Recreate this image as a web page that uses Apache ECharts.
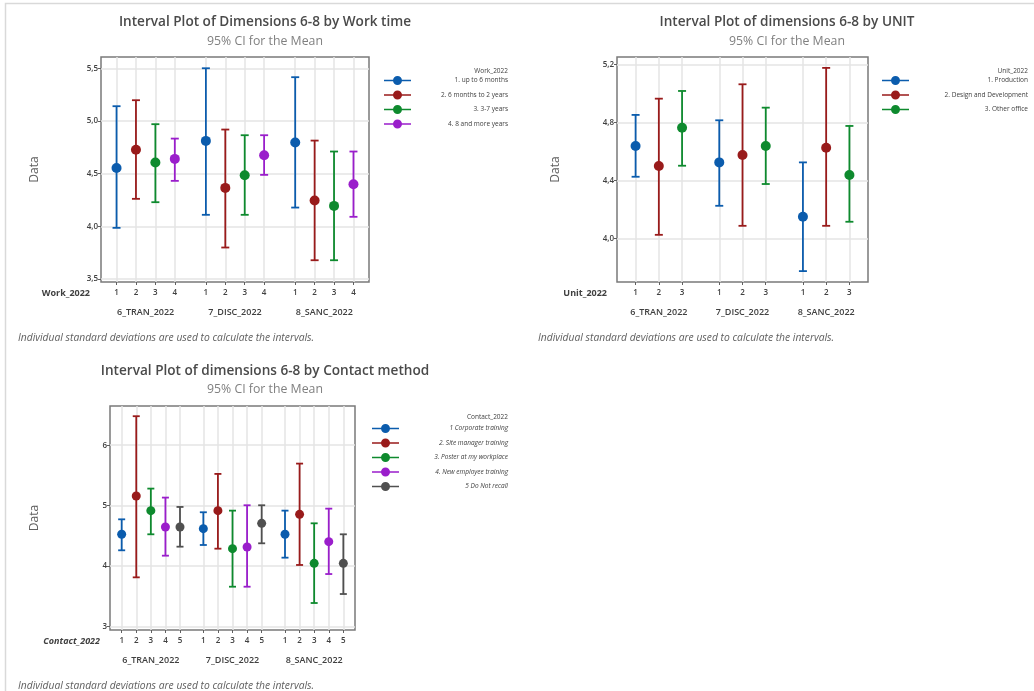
<!DOCTYPE html>
<html><head><meta charset="utf-8">
<script src="https://cdn.jsdelivr.net/npm/echarts@6/dist/echarts.min.js"></script>
<style>html,body{margin:0;padding:0;background:#fff}#c{width:1034px;height:691px}</style>
</head><body><div id="c"></div>
<script>
// ---------- DATA ----------
const groups = ['6_TRAN_2022', '7_DISC_2022', '8_SANC_2022'];
const colors = ['#0B5CAD', '#991B1B', '#0E8A2E', '#9A1ECB', '#505050'];

// Chart 1: Work time  ([level][group])
const workLevels = ['1', '2', '3', '4'];
const workNames = ['1. up to 6 months', '2. 6 months to 2 years', '3. 3-7 years', '4. 8 and more years'];
const workMean  = [[4.555, 4.812, 4.796], [4.727, 4.365, 4.245], [4.606, 4.486, 4.194], [4.641, 4.676, 4.400]];
const workLower = [[3.985, 4.109, 4.178], [4.261, 3.798, 3.677], [4.229, 4.109, 3.677], [4.432, 4.489, 4.090]];
const workUpper = [[5.142, 5.503, 5.418], [5.199, 4.920, 4.815], [4.971, 4.866, 4.711], [4.834, 4.866, 4.711]];
const workTicks = [3.5, 4.0, 4.5, 5.0, 5.5];

// Chart 2: UNIT
const unitLevels = ['1', '2', '3'];
const unitNames = ['1. Production', '2. Design and Development', '3. Other office'];
const unitMean  = [[4.637, 4.524, 4.149], [4.499, 4.575, 4.625], [4.763, 4.637, 4.437]];
const unitLower = [[4.425, 4.225, 3.775], [4.025, 4.087, 4.087], [4.501, 4.375, 4.115]];
const unitUpper = [[4.851, 4.814, 4.524], [4.963, 5.062, 5.175], [5.016, 4.901, 4.775]];
const unitTicks = [4.0, 4.4, 4.8, 5.2];

// Chart 3: Contact method
const contactLevels = ['1', '2', '3', '4', '5'];
const contactNames = ['1 Corporate training', '2. Site manager training', '3. Poster at my workplace', '4. New employee training', '5 Do Not recall'];
const contactMean  = [[4.525, 4.619, 4.525], [5.160, 4.917, 4.856], [4.917, 4.287, 4.044], [4.646, 4.315, 4.403], [4.646, 4.707, 4.044]];
const contactLower = [[4.260, 4.348, 4.138], [3.812, 4.287, 4.017], [4.525, 3.657, 3.387], [4.171, 3.657, 3.867], [4.320, 4.376, 3.536]];
const contactUpper = [[4.773, 4.890, 4.917], [6.481, 5.525, 5.696], [5.282, 4.917, 4.707], [5.133, 5.006, 4.950], [4.978, 5.006, 4.525]];
const contactTicks = [3, 4, 5, 6];

// ---------- LAYOUT ----------
const FONT = '"Open Sans", "Noto Sans", sans-serif';
const panels = [
  { levels: workLevels, names: workNames, mean: workMean, lower: workLower, upper: workUpper, ticks: workTicks, dec: 1,
    grid: { left: 101, top: 57, width: 268, height: 225 }, yMin: 3.47, yMax: 5.61,
    title: 'Interval Plot of Dimensions 6-8 by Work time', cx: 265, ty: 22, sy: 41,
    dataX: 35, xName: 'Work_2022', xNameX: 90, xNameItalic: false, foot: [18, 338],
    legTitle: 'Work_2022', legX: 384, legTop: 76, legRight: 508, legTitleY: 71, symbolSize: 10, cap: 4 },
  { levels: unitLevels, names: unitNames, mean: unitMean, lower: unitLower, upper: unitUpper, ticks: unitTicks, dec: 1,
    grid: { left: 617, top: 57, width: 251, height: 225 }, yMin: 3.70, yMax: 5.25,
    title: 'Interval Plot of dimensions 6-8 by UNIT', cx: 787, ty: 22, sy: 41,
    dataX: 556, xName: 'Unit_2022', xNameX: 607, xNameItalic: false, foot: [538, 338],
    legTitle: 'Unit_2022', legX: 882, legTop: 76, legRight: 1028, legTitleY: 71, symbolSize: 10, cap: 4 },
  { levels: contactLevels, names: contactNames, mean: contactMean, lower: contactLower, upper: contactUpper, ticks: contactTicks, dec: 0,
    grid: { left: 110, top: 406, width: 245, height: 224 }, yMin: 2.94, yMax: 6.65,
    title: 'Interval Plot of dimensions 6-8 by Contact method', cx: 265, ty: 371, sy: 389,
    dataX: 35, xName: 'Contact_2022', xNameX: 100, xNameItalic: true, foot: [18, 686],
    legTitle: 'Contact_2022', legX: 372, legTop: 424, legRight: 508, legTitleY: 417, symbolSize: 9, cap: 3.5 }
];

const PAD = 8, STEP = 10, GAP = 6;
const option = { animation: false, backgroundColor: '#fff', grid: [], xAxis: [], yAxis: [], series: [], legend: [], graphic: [] };

option.graphic.push({ type: 'rect', shape: { x: 5.5, y: 3.5, width: 1100, height: 800 }, style: { fill: null, stroke: '#d9d9d9', lineWidth: 1.5 }, silent: true });

function renderBar(cap) {
  return function (params, api) {
    const x = api.value(0);
    const lo = api.coord([x, api.value(1)]);
    const hi = api.coord([x, api.value(2)]);
    const style = { stroke: api.visual('color'), lineWidth: 1.8, fill: null };
    return { type: 'group', children: [
      { type: 'line', shape: { x1: lo[0], y1: lo[1], x2: hi[0], y2: hi[1] }, style: style },
      { type: 'line', shape: { x1: lo[0] - cap, y1: lo[1], x2: lo[0] + cap, y2: lo[1] }, style: style },
      { type: 'line', shape: { x1: hi[0] - cap, y1: hi[1], x2: hi[0] + cap, y2: hi[1] }, style: style }
    ] };
  };
}

const ICON = 'path://M0,4.2L27,4.2L27,5.8L0,5.8Z M9,5A4.5,4.5 0 1,1 18,5A4.5,4.5 0 1,1 9,5Z';

panels.forEach(function (p, k) {
  const n = p.levels.length;
  const stride = n * STEP + GAP;
  const pos = (g, i) => PAD + g * stride + i * STEP;
  const last = pos(groups.length - 1, n - 1);
  const N = last + PAD + 1;
  const slots = [];
  for (let s = 0; s < N; s++) slots.push(String(s));
  const levelLab = {}, groupLab = {};
  groups.forEach(function (g, gi) {
    p.levels.forEach(function (l, i) { levelLab[pos(gi, i)] = l; });
    groupLab[PAD + gi * stride + (n - 1) * STEP / 2] = g;
  });
  const isLevel = (idx) => levelLab[idx] !== undefined;
  const isGroup = (idx) => groupLab[idx] !== undefined;

  option.grid.push(Object.assign({ show: true, borderColor: '#7a7a7a', borderWidth: 1.5, backgroundColor: '#fff', containLabel: false }, p.grid));
  option.xAxis.push({
    gridIndex: k, type: 'category', data: slots, boundaryGap: false,
    axisLine: { show: false },
    axisTick: { show: true, length: 3, interval: isLevel, lineStyle: { color: '#606060', width: 1 } },
    axisLabel: { interval: isLevel, formatter: (v, idx) => levelLab[idx] || '', fontSize: 8, color: '#404040', margin: 7, fontFamily: FONT, fontWeight: 600 },
    splitLine: { show: true, interval: isLevel, lineStyle: { color: '#e4e4e4', width: 1.5 } }
  });
  option.xAxis.push({
    gridIndex: k, type: 'category', data: slots, boundaryGap: false, position: 'bottom', offset: 22,
    axisLine: { show: false }, axisTick: { show: false }, splitLine: { show: false },
    axisLabel: { interval: isGroup, formatter: (v, idx) => groupLab[idx] || '', fontSize: 9, color: '#404040', margin: 3.5, fontFamily: FONT, fontWeight: 600 }
  });
  option.yAxis.push({
    gridIndex: k, type: 'value', min: p.yMin, max: p.yMax,
    axisLine: { show: false },
    axisTick: { show: true, length: 3, customValues: p.ticks, lineStyle: { color: '#606060' } },
    axisLabel: { customValues: p.ticks, formatter: v => Number(v).toFixed(p.dec).replace('.', ','), fontSize: 8, color: '#404040', margin: 3, fontFamily: FONT, fontWeight: 600 },
    splitLine: { show: true, lineStyle: { color: '#e4e4e4', width: 1.5 } }
  });

  p.levels.forEach(function (l, i) {
    const color = colors[i];
    option.series.push({
      type: 'custom', name: p.names[i], xAxisIndex: 2 * k, yAxisIndex: k, z: 2,
      itemStyle: { color: color }, renderItem: renderBar(p.cap), encode: { x: 0, y: [1, 2] },
      data: groups.map((g, gi) => [pos(gi, i), p.lower[i][gi], p.upper[i][gi]])
    });
    option.series.push({
      type: 'scatter', name: p.names[i], xAxisIndex: 2 * k, yAxisIndex: k, z: 3,
      symbol: 'circle', symbolSize: p.symbolSize, itemStyle: { color: color, opacity: 1 },
      data: groups.map((g, gi) => [pos(gi, i), p.mean[i][gi]])
    });
  });

  const textW = p.legRight - (p.legX + 27 + 5);
  option.legend.push({
    orient: 'vertical', left: p.legX, top: p.legTop, padding: 0, itemGap: 5.5, itemWidth: 27, itemHeight: 9,
    selectedMode: false, icon: ICON,
    data: p.names.map((nm, i) => ({ name: nm, icon: ICON, itemStyle: { color: colors[i] } })),
    formatter: nm => '{t|' + nm + '}',
    textStyle: { rich: { t: { width: textW, align: 'right', fontSize: 6.5, color: '#404040', fontFamily: FONT, fontStyle: p.xNameItalic ? 'italic' : 'normal' } } }
  });

  const g = option.graphic;
  g.push({ type: 'text', x: p.cx, y: p.ty, silent: true, style: { text: p.title, align: 'center', verticalAlign: 'middle', fontSize: 13.6, fontWeight: 600, fill: '#4a4a4a', fontFamily: FONT } });
  g.push({ type: 'text', x: p.cx, y: p.sy, silent: true, style: { text: '95% CI for the Mean', align: 'center', verticalAlign: 'middle', fontSize: 12.3, fill: '#808080', fontFamily: FONT } });
  g.push({ type: 'text', x: p.dataX, y: p.grid.top + p.grid.height / 2, rotation: Math.PI / 2, silent: true, style: { text: 'Data', align: 'center', verticalAlign: 'middle', fontSize: 12, fill: '#606060', fontFamily: FONT } });
  g.push({ type: 'text', x: p.xNameX, y: p.grid.top + p.grid.height + 11.5, silent: true, style: { text: p.xName, align: 'right', verticalAlign: 'middle', fontSize: 9, fontWeight: 700, fontStyle: p.xNameItalic ? 'italic' : 'normal', fill: '#404040', fontFamily: FONT } });
  g.push({ type: 'text', x: p.legRight, y: p.legTitleY, silent: true, style: { text: p.legTitle, align: 'right', verticalAlign: 'middle', fontSize: 6.5, fill: '#404040', fontFamily: FONT } });
  g.push({ type: 'text', x: p.foot[0], y: p.foot[1], silent: true, style: { text: 'Individual standard deviations are used to calculate the intervals.', align: 'left', verticalAlign: 'middle', fontSize: 10.3, fontStyle: 'italic', fill: '#606060', fontFamily: FONT } });
});

const chart = echarts.init(document.getElementById('c'), null, { renderer: 'canvas' });
chart.setOption(option);
</script>
</body></html>
